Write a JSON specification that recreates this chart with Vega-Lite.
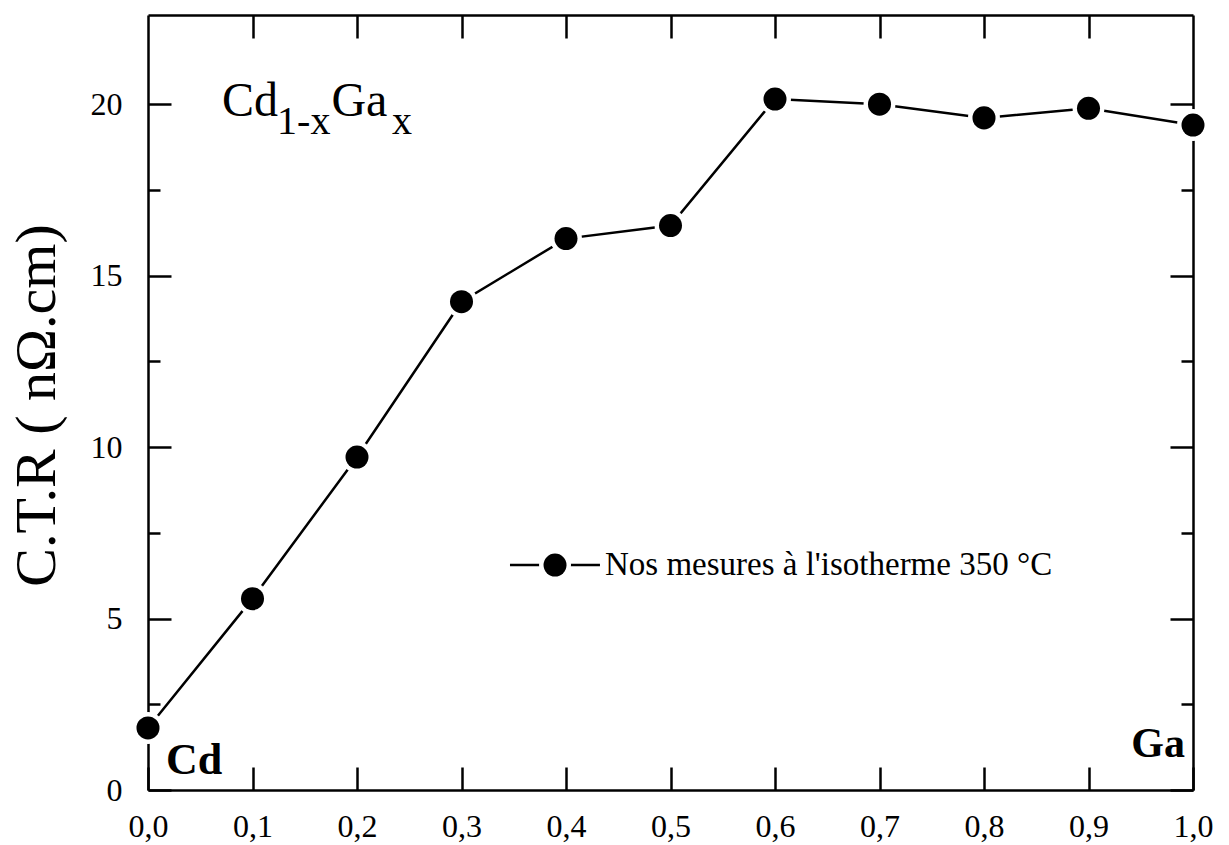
{
  "$schema": "https://vega.github.io/schema/vega-lite/v6.json",
  "width": 1045,
  "height": 775,
  "autosize": "none",
  "padding": {"left": 148, "top": 15, "right": 36, "bottom": 55},
  "background": "white",
  "config": {
    "view": {"stroke": null},
    "font": "Liberation Serif",
    "axis": {"zindex": 1}
  },
  "datasets": {
    "ctr": [
      {"x": 0.0, "ctr": 1.81},
      {"x": 0.1, "ctr": 5.58},
      {"x": 0.2, "ctr": 9.71},
      {"x": 0.3, "ctr": 14.24},
      {"x": 0.4, "ctr": 16.08},
      {"x": 0.5, "ctr": 16.46},
      {"x": 0.6, "ctr": 20.15},
      {"x": 0.7, "ctr": 20.0},
      {"x": 0.8, "ctr": 19.6},
      {"x": 0.9, "ctr": 19.88},
      {"x": 1.0, "ctr": 19.39}
    ]
  },
  "resolve": {"axis": {"x": "independent", "y": "independent"}},
  "layer": [
    {
      "data": {"name": "ctr"},
      "mark": {"type": "line", "color": "black", "strokeWidth": 2.5},
      "encoding": {
        "x": {"field": "x", "type": "quantitative",
          "scale": {"domain": [0, 1], "nice": false, "zero": false},
          "axis": {"orient": "bottom", "values": [0, 0.1, 0.2, 0.3, 0.4, 0.5, 0.6, 0.7, 0.8, 0.9, 1.0],
            "labelExpr": "replace(format(datum.value, '.1f'), '.', ',')",
            "tickSize": -23, "tickWidth": 2.5, "tickColor": "black",
            "domain": true, "domainColor": "black", "domainWidth": 2.5,
            "grid": false, "labelFont": "Liberation Serif", "labelFontSize": 32, "labelColor": "black",
            "labelPadding": 44, "labelFlush": false, "labelOverlap": false, "labelBound": false,
            "labelBaseline": "top", "title": null}},
        "y": {"field": "ctr", "type": "quantitative",
          "scale": {"domain": [0, 22.6], "nice": false, "zero": false},
          "axis": {"orient": "left", "values": [0, 5, 10, 15, 20],
            "tickSize": -23, "tickWidth": 2.5, "tickColor": "black",
            "domain": true, "domainColor": "black", "domainWidth": 2.5,
            "grid": false, "labelFont": "Liberation Serif", "labelFontSize": 32, "labelColor": "black",
            "labelPadding": 49, "labelOverlap": false, "labelBound": false, "labelFlush": false,
            "title": "C.T.R ( nΩ.cm)", "titleFont": "Liberation Serif", "titleFontSize": 58,
            "titleFontWeight": "normal", "titleColor": "black", "titleAngle": 270,
            "titleX": -94, "titleY": 390, "titleAlign": "center", "titleBaseline": "alphabetic"}}
      }
    },
    {
      "data": {"name": "ctr"},
      "mark": {"type": "point", "shape": "circle", "filled": true, "color": "white", "size": 1020, "opacity": 1},
      "encoding": {
        "x": {"field": "x", "type": "quantitative",
          "axis": {"orient": "top", "values": [0.1, 0.2, 0.3, 0.4, 0.5, 0.6, 0.7, 0.8, 0.9],
            "tickSize": -23, "tickWidth": 2.5, "tickColor": "black", "labels": false,
            "domain": true, "domainColor": "black", "domainWidth": 2.5, "grid": false, "title": null}},
        "y": {"field": "ctr", "type": "quantitative",
          "axis": {"orient": "right", "values": [0, 5, 10, 15, 20],
            "tickSize": -23, "tickWidth": 2.5, "tickColor": "black", "labels": false,
            "domain": true, "domainColor": "black", "domainWidth": 2.5, "grid": false, "title": null}}
      }
    },
    {
      "data": {"name": "ctr"},
      "mark": {"type": "point", "shape": "circle", "filled": true, "color": "black", "size": 530, "opacity": 1},
      "encoding": {
        "x": {"field": "x", "type": "quantitative", "axis": null},
        "y": {"field": "ctr", "type": "quantitative",
          "axis": {"orient": "left", "values": [2.5, 7.5, 12.5, 17.5],
            "tickSize": -12, "tickWidth": 2.5, "tickColor": "black", "labels": false,
            "domain": false, "grid": false, "title": null}}
      }
    },
    {
      "data": {"values": [{}]},
      "mark": {"type": "text", "text": "Cd", "font": "Liberation Serif", "fontSize": 48, "align": "left", "baseline": "alphabetic", "color": "black"},
      "encoding": {
        "x": {"datum": 0.0708, "type": "quantitative", "axis": null},
        "y": {"datum": 19.66, "type": "quantitative",
          "axis": {"orient": "right", "values": [2.5, 7.5, 12.5, 17.5],
            "tickSize": -12, "tickWidth": 2.5, "tickColor": "black", "labels": false,
            "domain": false, "grid": false, "title": null}}
      }
    },
    {
      "data": {"values": [{}]},
      "mark": {"type": "text", "text": "1-x", "font": "Liberation Serif", "fontSize": 40, "align": "left", "baseline": "alphabetic", "color": "black"},
      "encoding": {
        "x": {"datum": 0.1235, "type": "quantitative", "axis": null},
        "y": {"datum": 19.13, "type": "quantitative", "axis": null}
      }
    },
    {
      "data": {"values": [{}]},
      "mark": {"type": "text", "text": "Ga", "font": "Liberation Serif", "fontSize": 48, "align": "left", "baseline": "alphabetic", "color": "black"},
      "encoding": {
        "x": {"datum": 0.1755, "type": "quantitative", "axis": null},
        "y": {"datum": 19.66, "type": "quantitative", "axis": null}
      }
    },
    {
      "data": {"values": [{}]},
      "mark": {"type": "text", "text": "x", "font": "Liberation Serif", "fontSize": 40, "align": "left", "baseline": "alphabetic", "color": "black"},
      "encoding": {
        "x": {"datum": 0.2335, "type": "quantitative", "axis": null},
        "y": {"datum": 19.13, "type": "quantitative", "axis": null}
      }
    },
    {
      "data": {"values": [{}]},
      "mark": {"type": "text", "text": "Cd", "font": "Liberation Serif", "fontSize": 44, "fontWeight": "bold", "align": "left", "baseline": "alphabetic", "color": "black"},
      "encoding": {
        "x": {"datum": 0.0172, "type": "quantitative", "axis": null},
        "y": {"datum": 0.47, "type": "quantitative", "axis": null}
      }
    },
    {
      "data": {"values": [{}]},
      "mark": {"type": "text", "text": "Ga", "font": "Liberation Serif", "fontSize": 42, "fontWeight": "bold", "align": "right", "baseline": "alphabetic", "color": "black"},
      "encoding": {
        "x": {"datum": 0.9923, "type": "quantitative", "axis": null},
        "y": {"datum": 0.96, "type": "quantitative", "axis": null}
      }
    },
    {
      "data": {"values": [{}]},
      "mark": {"type": "rule", "color": "black", "strokeWidth": 2.5},
      "encoding": {
        "x": {"datum": 0.3464, "type": "quantitative", "axis": null},
        "x2": {"datum": 0.4325},
        "y": {"datum": 6.56, "type": "quantitative", "axis": null}
      }
    },
    {
      "data": {"values": [{}]},
      "mark": {"type": "point", "shape": "circle", "filled": true, "color": "white", "size": 1020, "opacity": 1},
      "encoding": {
        "x": {"datum": 0.3895, "type": "quantitative", "axis": null},
        "y": {"datum": 6.56, "type": "quantitative", "axis": null}
      }
    },
    {
      "data": {"values": [{}]},
      "mark": {"type": "point", "shape": "circle", "filled": true, "color": "black", "size": 530, "opacity": 1},
      "encoding": {
        "x": {"datum": 0.3895, "type": "quantitative", "axis": null},
        "y": {"datum": 6.56, "type": "quantitative", "axis": null}
      }
    },
    {
      "data": {"values": [{}]},
      "mark": {"type": "text", "text": "Nos mesures à l'isotherme 350 °C", "font": "Liberation Serif", "fontSize": 33, "align": "left", "baseline": "middle", "color": "black"},
      "encoding": {
        "x": {"datum": 0.4373, "type": "quantitative", "axis": null},
        "y": {"datum": 6.56, "type": "quantitative", "axis": null}
      }
    }
  ]
}
